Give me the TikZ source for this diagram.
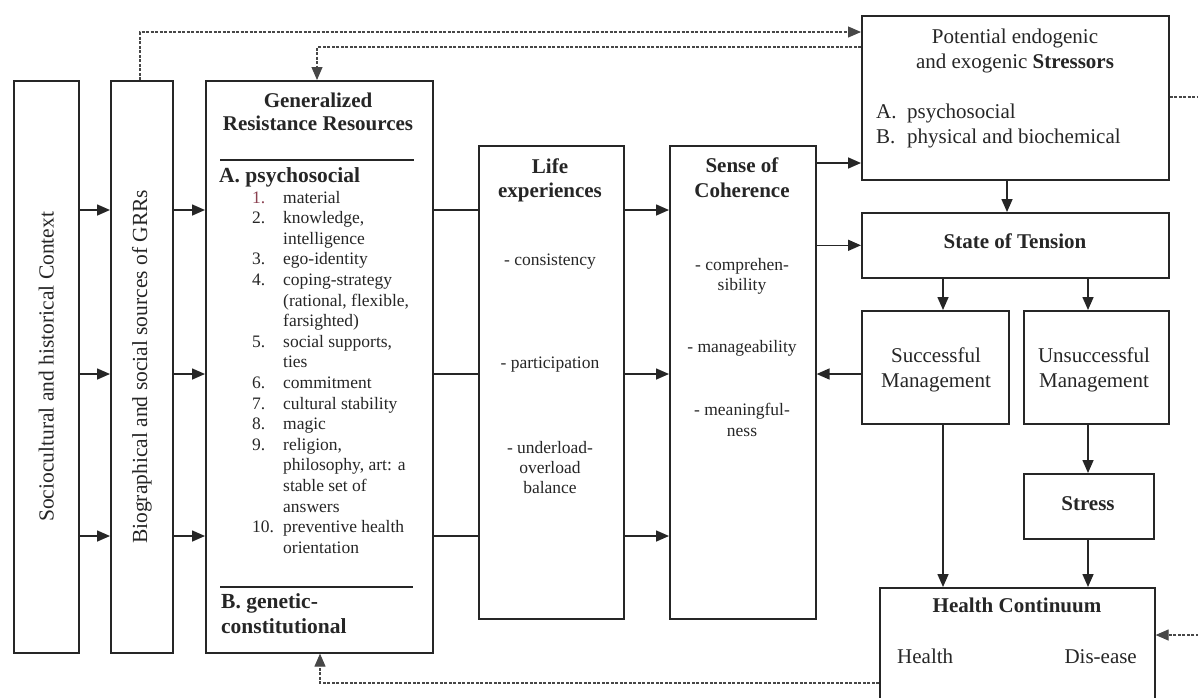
\documentclass[tikz,border=0pt]{standalone}
\usepackage{fontspec}
\setmainfont{Liberation Serif}
\usetikzlibrary{arrows.meta}
\definecolor{ink}{HTML}{262626}
\definecolor{numred}{HTML}{8A4050}
\newcommand{\ctab}[1]{\begin{tabular}[t]{@{}c@{}}#1\end{tabular}}
\newcommand{\ltab}[1]{\begin{tabular}[t]{@{}l@{}}#1\end{tabular}}
\newcommand{\fsA}{\fontsize{21}{24.5}\selectfont}
\newcommand{\fsB}{\fontsize{17.5}{20.6}\selectfont}
\newcommand{\nb}[1]{\makebox[31pt][l]{#1}}
\newcommand{\nbx}{\hspace*{31pt}}
\begin{document}
\begin{tikzpicture}[x=1pt,y=-1pt,
  box/.style={draw=ink, line width=1.6pt, inner sep=0pt, anchor=north west},
  txt/.style={inner sep=0pt, text=ink, anchor=base},
  tip/.style={-{Triangle[length=13pt,width=11pt]}},
  arr/.style={draw=ink, line width=1.6pt, tip},
  ln/.style={draw=ink, line width=1.6pt},
  sep/.style={draw=ink, line width=1.1pt},
  dsh/.style={draw=ink!85, line width=1.1pt, dash pattern=on 3pt off 1.5pt, tip}]
\path[use as bounding box, clip] (0,0) rectangle (1198,697);
\fill[white] (0,0) rectangle (1198,697);

% boxes
\node[box, minimum width=65pt, minimum height=572pt] (socio) at (13,80) {};
\node[box, minimum width=62pt, minimum height=572pt] (bio) at (110,80) {};
\node[box, minimum width=227pt, minimum height=572pt] (grr) at (205,80) {};
\node[box, minimum width=145pt, minimum height=473pt] (life) at (478,145) {};
\node[box, minimum width=146pt, minimum height=473pt] (soc) at (669,145) {};
\node[box, minimum width=307pt, minimum height=164pt] (str) at (861,15) {};
\node[box, minimum width=307pt, minimum height=65pt] (ten) at (861,212) {};
\node[box, minimum width=147pt, minimum height=113pt] (succ) at (861,310) {};
\node[box, minimum width=145pt, minimum height=113pt] (unsucc) at (1023,310) {};
\node[box, minimum width=130pt, minimum height=65pt] (stress) at (1023,473) {};
\node[box, minimum width=275pt, minimum height=135pt] (health) at (879,587) {};

% texts
\node[txt, anchor=center, rotate=90] (socioT) at (socio.center) {\fontsize{21.5}{24}\selectfont Sociocultural and historical Context};
\node[txt, anchor=center, rotate=90] (bioT) at (bio.center) {\fontsize{21.5}{24}\selectfont Biographical and social sources of GRRs};

\node[txt] (grrT) at (318,107) {\fontsize{21}{23.5}\selectfont\bfseries\ctab{Generalized\\Resistance Resources}};
\draw[sep] (220,160) -- (414,160);
\node[txt, anchor=base west] (grrA) at (219,182) {\fontsize{21.5}{24}\selectfont\bfseries A. psychosocial};
\node[txt, anchor=base west] (grrL) at (252,203) {\fsB\ltab{%
\nb{\textcolor{numred}{1.}}material\\
\nb{2.}knowledge,\\
\nbx intelligence\\
\nb{3.}ego-identity\\
\nb{4.}coping-strategy\\
\nbx (rational, flexible,\\
\nbx farsighted)\\
\nb{5.}social supports,\\
\nbx ties\\
\nb{6.}commitment\\
\nb{7.}cultural stability\\
\nb{8.}magic\\
\nb{9.}religion,\\
\nbx philosophy, art: a\\
\nbx stable set of\\
\nbx answers\\
\nb{10.}preventive health\\
\nbx orientation}};
\draw[sep] (220,587) -- (413,587);
\node[txt, anchor=base west] (grrB) at (221,608) {\fontsize{21.5}{25}\selectfont\bfseries\ltab{B. genetic-\\constitutional}};

\node[txt] (lifeT) at (550,173) {\fontsize{21}{24}\selectfont\bfseries\ctab{Life\\experiences}};
\node[txt] (life1) at (550,265) {\fsB - consistency};
\node[txt] (life2) at (550,368) {\fsB - participation};
\node[txt] (life3) at (550,453) {\fontsize{17.5}{20}\selectfont\ctab{- underload-\\overload\\balance}};

\node[txt] (socT) at (742,172) {\fontsize{21}{25}\selectfont\bfseries\ctab{Sense of\\Coherence}};
\node[txt] (soc1) at (742,270) {\fontsize{17.5}{20.5}\selectfont\ctab{- comprehen-\\sibility}};
\node[txt] (soc2) at (742,352) {\fsB - manageability};
\node[txt] (soc3) at (742,415) {\fontsize{17.5}{21.5}\selectfont\ctab{- meaningful-\\ness}};

\node[txt] (strT) at (1015,43) {\fontsize{21}{25}\selectfont\ctab{Potential endogenic\\and exogenic \textbf{Stressors}}};
\node[txt, anchor=base west] (strL) at (876,118) {\fontsize{21}{25}\selectfont\ltab{\nb{A.}psychosocial\\\nb{B.}physical and biochemical}};
\node[txt] (tenT) at (1015,248) {\fontsize{21}{24}\selectfont\bfseries State of Tension};
\node[txt] (succT) at (936,362) {\fontsize{21}{25}\selectfont\ctab{Successful\\Management}};
\node[txt] (unsuccT) at (1094,362) {\fontsize{21}{25}\selectfont\ctab{Unsuccessful\\Management}};
\node[txt] (stressT) at (1088,510) {\fontsize{21}{24}\selectfont\bfseries Stress};
\node[txt] (healthT) at (1017,612) {\fontsize{21}{24}\selectfont\bfseries Health Continuum};
\node[txt, anchor=base west] (healthL) at (897,663) {\fontsize{21}{24}\selectfont Health};
\node[txt, anchor=base east] (healthR) at (1137,663) {\fontsize{21}{24}\selectfont Dis-ease};

% solid connectors
\coordinate (r1) at (0,210);
\coordinate (r2) at (0,374);
\coordinate (r3) at (0,536);
\foreach \r in {r1,r2,r3} {
  \draw[arr] (socio.east |- \r) -- (bio.west |- \r);
  \draw[arr] (bio.east |- \r) -- (grr.west |- \r);
  \draw[ln] (grr.east |- \r) -- (life.west |- \r);
  \draw[arr] (life.east |- \r) -- (soc.west |- \r);
}
\coordinate (yS) at (0,163);
\draw[arr] (soc.east |- yS) -- (str.west |- yS);
\draw[arr] (soc.east |- ten.west) -- (ten.west);
\draw[arr] (succ.west |- r2) -- (soc.east |- r2);
\coordinate (xA) at (1007,0);
\coordinate (xB) at (943,0);
\coordinate (xC) at (1088,0);
\draw[arr] (str.south -| xA) -- (ten.north -| xA);
\draw[arr] (ten.south -| xB) -- (succ.north -| xB);
\draw[arr] (ten.south -| xC) -- (unsucc.north -| xC);
\draw[arr] (unsucc.south -| xC) -- (stress.north -| xC);
\draw[arr] (stress.south -| xC) -- (health.north -| xC);
\draw[arr] (succ.south -| xB) -- (health.north -| xB);

% dashed feedback connectors
\coordinate (d1) at (140,32);
\draw[dsh] (bio.north -| d1) -- (d1) -- (str.west |- d1);
\coordinate (d2) at (317,47);
\draw[dsh] (str.west |- d2) -- (d2) -- (grr.north -| d2);
\coordinate (d3) at (1210,97);
\coordinate (d4) at (1210,635);
\draw[dsh] (str.east |- d3) -- (d3) -- (d4) -- (health.east |- d4);
\coordinate (d5) at (320,683);
\draw[dsh] (health.west |- d5) -- (d5) -- (grr.south -| d5);
\end{tikzpicture}
\end{document}
